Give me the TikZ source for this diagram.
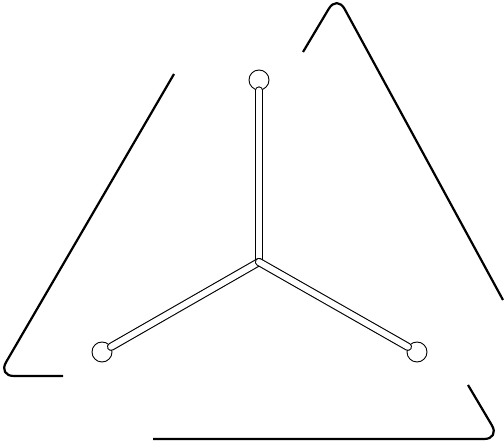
\documentclass[tikz,border=0pt]{standalone}
\begin{document}
\begin{tikzpicture}[x=1pt,y=-1pt,
  outer/.style={draw=black,line width=2.2pt,rounded corners=16pt},
  hub/.style={draw=black,circle,fill=white,line width=0.9pt,minimum size=20pt,inner sep=0pt},
  spoke/.style={draw=black,double=white,line width=1.1pt,double distance=6pt,line cap=round}]
\useasboundingbox (0,0) rectangle (504,443);
\coordinate (c) at (259,262);
\node[hub] (n1) at (259,80) {};
\node[hub] (n2) at (102,352) {};
\node[hub] (n3) at (417,352) {};
\draw[spoke] (c) -- (n1);
\draw[spoke] (c) -- (n2);
\draw[spoke] (c) -- (n3);
\coordinate (a1) at (174,74);
\coordinate (a2) at (-2,376);
\coordinate (a3) at (63,376);
\coordinate (b1) at (303,52);
\coordinate (b2) at (337,-5);
\coordinate (b3) at (503,300);
\coordinate (d1) at (468,385);
\coordinate (d2) at (500,439);
\coordinate (d3) at (153,439);
\draw[outer] (a1) -- (a2) -- (a3);
\draw[outer] (b1) -- (b2) -- (b3);
\draw[outer] (d1) -- (d2) -- (d3);
\end{tikzpicture}
\end{document}
